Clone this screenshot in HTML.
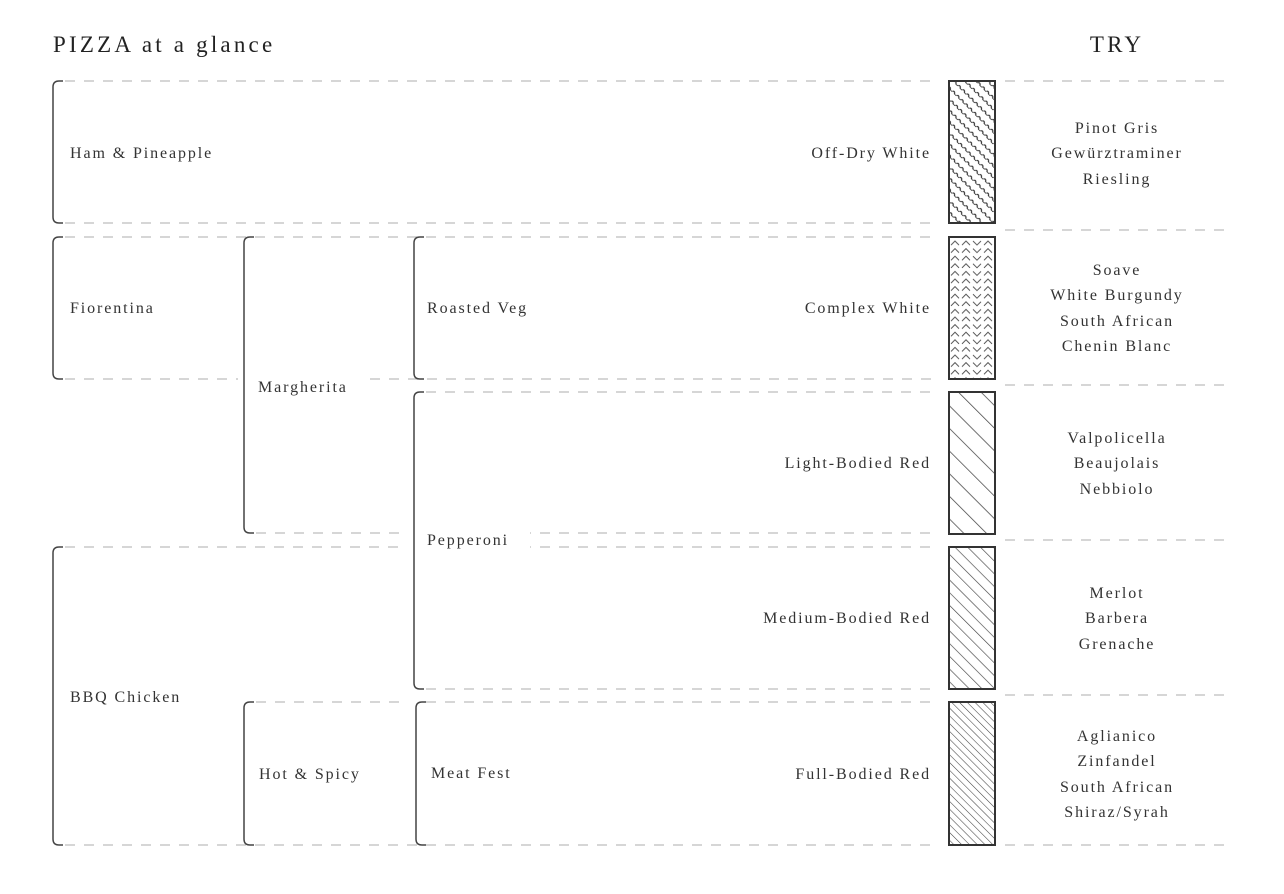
<!DOCTYPE html>
<html><head><meta charset="utf-8"><style>
html,body{margin:0;padding:0;background:#fff;}
svg{display:block;}
text{font-family:"Liberation Serif",serif;fill:#333;font-size:16px;letter-spacing:1.9px;}
.t{font-size:23px;letter-spacing:3.2px;fill:#222;}
.r{text-anchor:end;}
.c{text-anchor:middle;}
</style></head><body>
<svg width="1284" height="894" viewBox="0 0 1284 894" xmlns="http://www.w3.org/2000/svg">
<defs>
<pattern id="dl" patternUnits="userSpaceOnUse" width="16" height="16" patternTransform="rotate(-45)">
<line x1="0" y1="0" x2="0" y2="16" stroke="#444" stroke-width="1.5"/></pattern>
<pattern id="dm" patternUnits="userSpaceOnUse" width="9" height="9" patternTransform="rotate(-45)">
<line x1="0" y1="0" x2="0" y2="9" stroke="#444" stroke-width="1.3"/></pattern>
<pattern id="df" patternUnits="userSpaceOnUse" width="5.5" height="5.5" patternTransform="rotate(-45)">
<line x1="0" y1="0" x2="0" y2="5.5" stroke="#444" stroke-width="1.1"/></pattern>
<pattern id="wv" patternUnits="userSpaceOnUse" width="8" height="6" patternTransform="rotate(-45)">
<path d="M1,0 Q3,1.5 1,3 Q-1,4.5 1,6" fill="none" stroke="#333" stroke-width="1.2"/></pattern>
<pattern id="cv" patternUnits="userSpaceOnUse" width="46" height="7.6" x="949" y="239">
<path d="M2,6 L6,2 L10,6 M13,6 L17,2 L21,6 M24,2 L28,6 L32,2 M35,6 L39,2 L43,6" fill="none" stroke="#555" stroke-width="1"/></pattern>
</defs>

<text class="t" x="53" y="52">PIZZA at a glance</text>
<text class="t c" x="1117" y="52">TRY</text>

<g stroke="#c8c8c8" stroke-width="1.5" stroke-dasharray="10 9" fill="none">
<path d="M65 81H935M65 223H935M65 237H935M65 379H238M256 379H935M426 392H935M256 533H402M426 533H935M65 547H402M426 547H935M426 689H935M256 702H402M426 702H935M65 845H935"/>
<path d="M1005 81H1228M1005 230H1228M1005 385H1228M1005 540H1228M1005 695H1228M1005 845H1228"/>
</g>

<g stroke="#444" stroke-width="1.5" fill="none">
<path d="M63 81H59Q53 81 53 87V217Q53 223 59 223H63"/>
<path d="M63 237H59Q53 237 53 243V373Q53 379 59 379H63"/>
<path d="M63 547H59Q53 547 53 553V839Q53 845 59 845H63"/>
<path d="M254 237H250Q244 237 244 243V527Q244 533 250 533H254"/>
<path d="M254 702H250Q244 702 244 708V839Q244 845 250 845H254"/>
<path d="M424 237H420Q414 237 414 243V373Q414 379 420 379H424"/>
<path d="M424 392H420Q414 392 414 398V683Q414 689 420 689H424"/>
<path d="M426 702H422Q416 702 416 708V839Q416 845 422 845H426"/>
</g>

<rect x="949" y="81" width="46" height="142" fill="url(#wv)"/>
<rect x="949" y="237" width="46" height="142" fill="url(#cv)"/>
<rect x="949" y="392" width="46" height="142" fill="url(#dl)"/>
<rect x="949" y="547" width="46" height="142" fill="url(#dm)"/>
<rect x="949" y="702" width="46" height="143" fill="url(#df)"/>
<g fill="none" stroke="#333" stroke-width="2">
<rect x="949" y="81" width="46" height="142"/>
<rect x="949" y="237" width="46" height="142"/>
<rect x="949" y="392" width="46" height="142"/>
<rect x="949" y="547" width="46" height="142"/>
<rect x="949" y="702" width="46" height="143"/>
</g>

<rect x="253" y="370" width="108" height="24" fill="#fff"/>
<rect x="420" y="528" width="110" height="24" fill="#fff"/>

<text x="70" y="158">Ham &amp; Pineapple</text>
<text x="70" y="313">Fiorentina</text>
<text x="258" y="392">Margherita</text>
<text x="427" y="313">Roasted Veg</text>
<text x="427" y="545">Pepperoni</text>
<text x="70" y="702">BBQ Chicken</text>
<text x="259" y="779">Hot &amp; Spicy</text>
<text x="431" y="778">Meat Fest</text>

<text class="r" x="931" y="158">Off-Dry White</text>
<text class="r" x="931" y="313">Complex White</text>
<text class="r" x="931" y="468">Light-Bodied Red</text>
<text class="r" x="931" y="623">Medium-Bodied Red</text>
<text class="r" x="931" y="779">Full-Bodied Red</text>

<text class="c" x="1117" y="133">Pinot Gris</text>
<text class="c" x="1117" y="158">Gewürztraminer</text>
<text class="c" x="1117" y="184">Riesling</text>
<text class="c" x="1117" y="275">Soave</text>
<text class="c" x="1117" y="300">White Burgundy</text>
<text class="c" x="1117" y="326">South African</text>
<text class="c" x="1117" y="351">Chenin Blanc</text>
<text class="c" x="1117" y="443">Valpolicella</text>
<text class="c" x="1117" y="468">Beaujolais</text>
<text class="c" x="1117" y="494">Nebbiolo</text>
<text class="c" x="1117" y="598">Merlot</text>
<text class="c" x="1117" y="623">Barbera</text>
<text class="c" x="1117" y="649">Grenache</text>
<text class="c" x="1117" y="741">Aglianico</text>
<text class="c" x="1117" y="766">Zinfandel</text>
<text class="c" x="1117" y="792">South African</text>
<text class="c" x="1117" y="817">Shiraz/Syrah</text>
</svg>
</body></html>
